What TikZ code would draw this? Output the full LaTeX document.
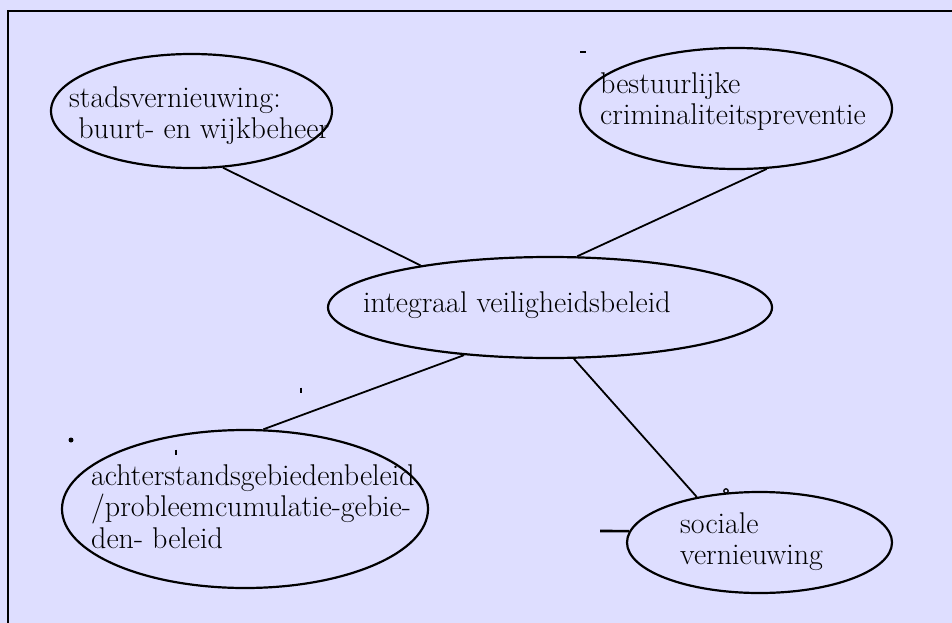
\documentclass[tikz,border=0pt]{standalone}
\usetikzlibrary{shapes.geometric}
\definecolor{paneel}{RGB}{222,222,255}

\begin{document}
\begin{tikzpicture}[x=1pt, y=-1pt,
    bubble/.style={draw, ellipse, line width=2.2pt, inner sep=0pt},
    bubbletext/.style={inner sep=0pt, align=left, anchor=north west,
      font=\fontsize{30}{31.5}\selectfont},
    link/.style={line width=1.8pt}]
    % Background panel
    \useasboundingbox (0,0) rectangle (952,623);
    \fill[paneel] (0,0) rectangle (952,623);
    \draw[line width=2.2pt]
      (8,623) -- (8,11) -- (952,11);

    % Ellipses
    \node[bubble, minimum width=281pt, minimum height=114pt] (stad) at (191.5,111) {};
    \node[bubble, minimum width=312pt, minimum height=121pt] (bestuur) at (736,108.5) {};
    \node[bubble, minimum width=444pt, minimum height=101pt] (integraal) at (550,307.5) {};
    \node[bubble, minimum width=366pt, minimum height=158pt] (achter) at (245,509) {};
    \node[bubble, minimum width=265pt, minimum height=101pt] (sociale) at (759.5,542.5) {};

    % Labels
    \node[bubbletext] (stadtxt) at (69,86)
      {stadsvernieuwing:\\\ buurt- en wijkbeheer};
    \node[bubbletext] (bestuurtxt) at (600,72)
      {bestuurlijke\\criminaliteitspreventie};
    \node[bubbletext, anchor=base west] (integraaltxt) at (363,312)
      {integraal veiligheidsbeleid};
    \node[bubbletext] (achtertxt) at (91,464)
      {achterstandsgebiedenbeleid\\/probleemcumulatie-gebie-\\den- beleid};
    \node[bubbletext] (socialetxt) at (680,512)
      {sociale\\vernieuwing};

    % Connectors
    \draw[link] (stad.-61.5) -- (integraal.162);
    \draw[link] (bestuur.-63.4) -- (integraal.62.6);
    \draw[link] (integraal.-151.7) -- (achter.77.6);
    \draw[link] (integraal.-65.7) -- (sociale.144.5);
    \coordinate (stub) at (600,531);
    \draw[line width=2.6pt] (stub) -- (sociale.175);

    % Stray marks
    \fill (71,440) circle (2.5);
    \draw[line width=2.4pt] (580,52) -- (586,52);
    \foreach \x/\y in {176/452, 301/390} {
      \draw[line width=1.8pt] (\x,\y-2.5) -- (\x,\y+2.5);
    }
    \draw[line width=1.3pt] (726,491) circle (2.2);
  \end{tikzpicture}
\end{document}
